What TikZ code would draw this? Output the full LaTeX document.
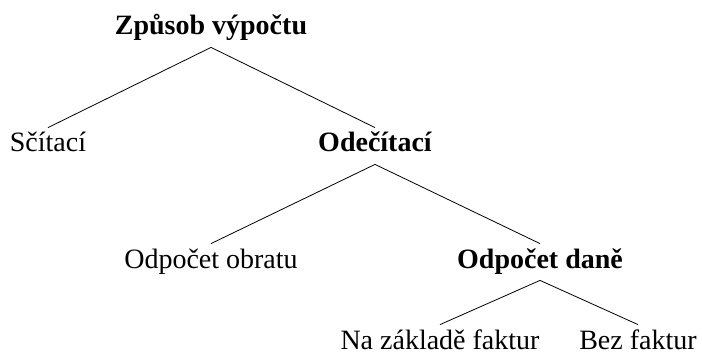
\documentclass[tikz,border=0pt]{standalone}
\usepackage{fontspec}
\setmainfont{Liberation Serif}
\tikzset{
  tn/.style={anchor=base, inner sep=0pt, text height=12pt, text depth=6pt, font=\fontsize{14}{16}\selectfont},
  tb/.style={tn, font=\fontsize{14}{16}\selectfont\bfseries},
  edge/.style={draw=black, line width=0.4pt}
}
\begin{document}
\begin{tikzpicture}
\useasboundingbox (0,0) rectangle (351pt,-176.5pt);
\node[tb] (root) at (105.5pt,-17.5pt) {Způsob výpočtu};
\node[tn] (sc) at (24pt,-76pt) {Sčítací};
\node[tb] (od) at (187.5pt,-76pt) {Odečítací};
\node[tn] (obr) at (105.5pt,-134pt) {Odpočet obratu};
\node[tb] (dan) at (270pt,-134pt) {Odpočet daně};
\node[tn] (fak) at (220pt,-174.5pt) {Na základě faktur};
\node[tn] (bez) at (319pt,-174.5pt) {Bez faktur};
\draw[edge] (root.south) -- (sc.north);
\draw[edge] (root.south) -- (od.north);
\draw[edge] (od.south) -- (obr.north);
\draw[edge] (od.south) -- (dan.north);
\draw[edge] (dan.south) -- (fak.north);
\draw[edge] (dan.south) -- (bez.north);
\end{tikzpicture}
\end{document}
